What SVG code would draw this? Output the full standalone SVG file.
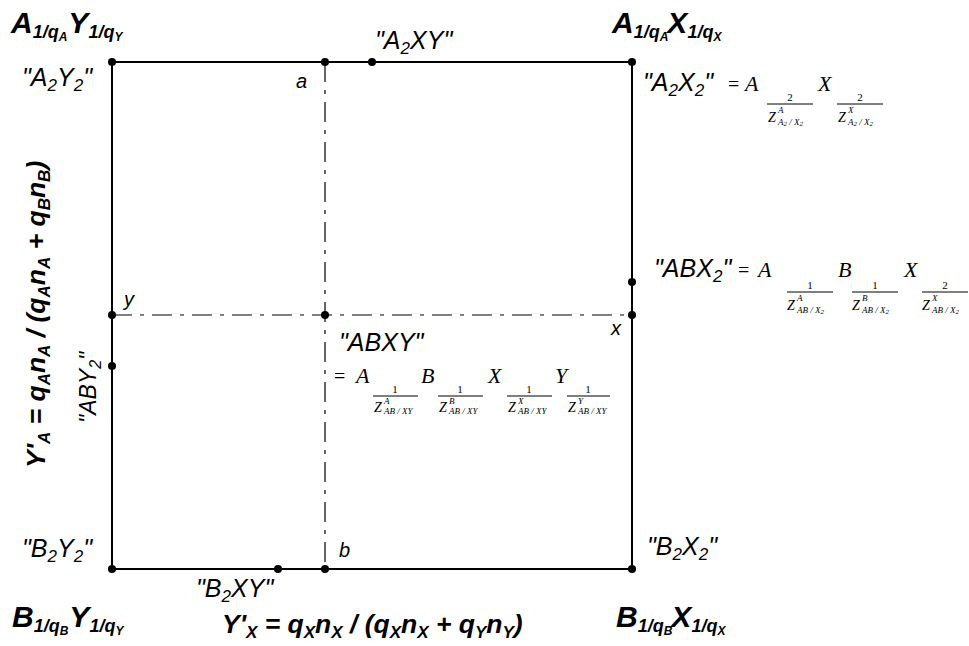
<svg xmlns="http://www.w3.org/2000/svg" width="969" height="646" viewBox="0 0 969 646">
<style>
.bi{font-family:"Liberation Sans",Arial,sans-serif;font-weight:bold;font-style:italic;fill:#000}
.it{font-family:"Liberation Sans",Arial,sans-serif;font-style:italic;fill:#000}
.tm{font-family:"Liberation Serif","Times New Roman",serif;font-style:italic;fill:#000}
.tr{font-family:"Liberation Serif","Times New Roman",serif;fill:#000}
.edge{stroke:#000;stroke-width:2;fill:none}
.dd{stroke:#000;stroke-width:1.2;fill:none;stroke-dasharray:20 8 4 8}
.fl{stroke:#000;stroke-width:1}
.pt{fill:#000}
</style>
<rect width="969" height="646" fill="#fff"/>
<g id="connectors">
<path class="edge" d="M112 62H632V569H112Z"/>
<path class="dd" d="M325 62V569"/>
<path class="dd" d="M112 315H632"/>
</g>
<g id="points">
<circle class="pt" cx="112" cy="62" r="4"/>
<circle class="pt" cx="325" cy="62" r="4"/>
<circle class="pt" cx="372" cy="62" r="4"/>
<circle class="pt" cx="632" cy="62" r="4"/>
<circle class="pt" cx="632" cy="282" r="4"/>
<circle class="pt" cx="632" cy="315" r="4"/>
<circle class="pt" cx="325" cy="315" r="4"/>
<circle class="pt" cx="112" cy="315" r="4"/>
<circle class="pt" cx="112" cy="366" r="4"/>
<circle class="pt" cx="112" cy="569" r="4"/>
<circle class="pt" cx="278" cy="569" r="4"/>
<circle class="pt" cx="325" cy="569" r="4"/>
<circle class="pt" cx="632" cy="569" r="4"/>
</g>
<g id="corner-AY">
<text class="bi" font-size="30" x="11" y="33">A<tspan dy="5" font-size="18">1/q</tspan><tspan dy="3" font-size="12">A</tspan><tspan dy="-8" dx="1">Y</tspan><tspan dy="5" font-size="18">1/q</tspan><tspan dy="3" font-size="12">Y</tspan></text>
</g>
<g id="corner-AX">
<text class="bi" font-size="30" x="612" y="33">A<tspan dy="5" font-size="18">1/q</tspan><tspan dy="3" font-size="12">A</tspan><tspan dy="-8" dx="-1">X</tspan><tspan dy="5" font-size="18">1/q</tspan><tspan dy="3" font-size="12">X</tspan></text>
</g>
<g id="corner-BY">
<text class="bi" font-size="30" x="12" y="627">B<tspan dy="5" font-size="18">1/q</tspan><tspan dy="3" font-size="12">B</tspan><tspan dy="-8" dx="1">Y</tspan><tspan dy="5" font-size="18">1/q</tspan><tspan dy="3" font-size="12">Y</tspan></text>
</g>
<g id="corner-BX">
<text class="bi" font-size="30" x="616" y="627">B<tspan dy="5" font-size="18">1/q</tspan><tspan dy="3" font-size="12">B</tspan><tspan dy="-8" dx="-1">X</tspan><tspan dy="5" font-size="18">1/q</tspan><tspan dy="3" font-size="12">X</tspan></text>
</g>
<g id="label-A2Y2">
<text class="it" font-size="25" x="22" y="86">"A<tspan dy="5" font-size="17">2</tspan><tspan dy="-5">Y</tspan><tspan dy="5" font-size="17">2</tspan><tspan dy="-5">"</tspan></text>
</g>
<g id="label-A2XY">
<text class="it" font-size="25" x="375" y="49">"A<tspan dy="5" font-size="17">2</tspan><tspan dy="-5">XY"</tspan></text>
</g>
<g id="label-B2Y2">
<text class="it" font-size="25" x="22" y="557">"B<tspan dy="5" font-size="17">2</tspan><tspan dy="-5">Y</tspan><tspan dy="5" font-size="17">2</tspan><tspan dy="-5">"</tspan></text>
</g>
<g id="label-B2XY">
<text class="it" font-size="25" x="196" y="597">"B<tspan dy="5" font-size="17">2</tspan><tspan dy="-5">XY"</tspan></text>
</g>
<g id="label-B2X2">
<text class="it" font-size="25" x="647" y="555">"B<tspan dy="5" font-size="17">2</tspan><tspan dy="-5">X</tspan><tspan dy="5" font-size="17">2</tspan><tspan dy="-5">"</tspan></text>
</g>
<g id="small-labels">
<text class="it" font-size="20" x="296" y="88">a</text>
<text class="it" font-size="20" x="339" y="557">b</text>
<text class="it" font-size="20" x="124" y="306">y</text>
<text class="it" font-size="20" x="611" y="335">x</text>
</g>
<g id="label-A2X2">
<text class="it" font-size="25" x="643" y="91">"A<tspan dy="5" font-size="17">2</tspan><tspan dy="-5">X</tspan><tspan dy="5" font-size="17">2</tspan><tspan dy="-5">"</tspan></text>
<text class="tr" font-size="20" x="728" y="91">=</text>
<text class="tm" font-size="22" x="745" y="91">A</text>
<line class="fl" x1="767" y1="104" x2="813" y2="104"/>
<text class="tr" font-size="11" x="790" y="101" text-anchor="middle">2</text>
<text class="tm" font-size="14" x="768" y="122">Z<tspan x="778" y="113" font-size="9">A</tspan><tspan x="778" y="125" font-size="9">A</tspan><tspan font-size="7" dy="1">2</tspan><tspan font-size="9" dy="-1"> / X</tspan><tspan font-size="7" dy="1">2</tspan></text>
<text class="tm" font-size="22" x="818" y="91">X</text>
<line class="fl" x1="837" y1="104" x2="883" y2="104"/>
<text class="tr" font-size="11" x="860" y="101" text-anchor="middle">2</text>
<text class="tm" font-size="14" x="838" y="122">Z<tspan x="848" y="113" font-size="9">X</tspan><tspan x="848" y="125" font-size="9">A</tspan><tspan font-size="7" dy="1">2</tspan><tspan font-size="9" dy="-1"> / X</tspan><tspan font-size="7" dy="1">2</tspan></text>
</g>
<g id="label-ABX2">
<text class="it" font-size="25" x="654" y="277">"ABX<tspan dy="5" font-size="17">2</tspan><tspan dy="-5">"</tspan></text>
<text class="tr" font-size="20" x="738" y="277">=</text>
<text class="tm" font-size="22" x="758" y="277">A</text>
<line class="fl" x1="787" y1="292" x2="833" y2="292"/>
<text class="tr" font-size="11" x="810" y="289" text-anchor="middle">1</text>
<text class="tm" font-size="14" x="787" y="310">Z<tspan x="797" y="301" font-size="9">A</tspan><tspan x="797" y="313" font-size="9">AB / X</tspan><tspan font-size="7" dy="1">2</tspan></text>
<text class="tm" font-size="22" x="838" y="277">B</text>
<line class="fl" x1="852" y1="292" x2="898" y2="292"/>
<text class="tr" font-size="11" x="875" y="289" text-anchor="middle">1</text>
<text class="tm" font-size="14" x="852" y="310">Z<tspan x="862" y="301" font-size="9">B</tspan><tspan x="862" y="313" font-size="9">AB / X</tspan><tspan font-size="7" dy="1">2</tspan></text>
<text class="tm" font-size="22" x="904" y="277">X</text>
<line class="fl" x1="922" y1="292" x2="968" y2="292"/>
<text class="tr" font-size="11" x="945" y="289" text-anchor="middle">2</text>
<text class="tm" font-size="14" x="922" y="310">Z<tspan x="932" y="301" font-size="9">X</tspan><tspan x="932" y="313" font-size="9">AB / X</tspan><tspan font-size="7" dy="1">2</tspan></text>
</g>
<g id="label-ABXY">
<text class="it" font-size="25" x="339" y="351">"ABXY"</text>
<text class="tr" font-size="20" x="334" y="383">=</text>
<text class="tm" font-size="22" x="356" y="383">A</text>
<line class="fl" x1="373" y1="396" x2="418" y2="396"/>
<text class="tr" font-size="11" x="395" y="393" text-anchor="middle">1</text>
<text class="tm" font-size="14" x="374" y="412">Z<tspan x="384" y="404" font-size="9">A</tspan><tspan x="384" y="414" font-size="9">AB / XY</tspan></text>
<text class="tm" font-size="22" x="421" y="383">B</text>
<line class="fl" x1="438" y1="396" x2="483" y2="396"/>
<text class="tr" font-size="11" x="460" y="393" text-anchor="middle">1</text>
<text class="tm" font-size="14" x="439" y="412">Z<tspan x="449" y="404" font-size="9">B</tspan><tspan x="449" y="414" font-size="9">AB / XY</tspan></text>
<text class="tm" font-size="22" x="488" y="383">X</text>
<line class="fl" x1="507" y1="396" x2="552" y2="396"/>
<text class="tr" font-size="11" x="529" y="393" text-anchor="middle">1</text>
<text class="tm" font-size="14" x="508" y="412">Z<tspan x="518" y="404" font-size="9">X</tspan><tspan x="518" y="414" font-size="9">AB / XY</tspan></text>
<text class="tm" font-size="22" x="555" y="383">Y</text>
<line class="fl" x1="567" y1="396" x2="610" y2="396"/>
<text class="tr" font-size="11" x="588" y="393" text-anchor="middle">1</text>
<text class="tm" font-size="14" x="568" y="412">Z<tspan x="578" y="404" font-size="9">Y</tspan><tspan x="578" y="414" font-size="9">AB / XY</tspan></text>
</g>
<g id="label-ABY2">
<text class="it" font-size="23" transform="translate(96 423) rotate(-90)" x="0" y="0">"ABY<tspan dy="5" font-size="16">2</tspan><tspan dy="-5">"</tspan></text>
</g>
<g id="axis-left">
<text class="bi" font-size="26.5" transform="translate(45 468) rotate(-90)" x="0" y="0">Y'<tspan dy="5" font-size="17">A</tspan><tspan dy="-5"> = q</tspan><tspan dy="5" font-size="17">A</tspan><tspan dy="-5">n</tspan><tspan dy="5" font-size="17">A</tspan><tspan dy="-5"> / (q</tspan><tspan dy="5" font-size="17">A</tspan><tspan dy="-5">n</tspan><tspan dy="5" font-size="17">A</tspan><tspan dy="-5"> + q</tspan><tspan dy="5" font-size="17">B</tspan><tspan dy="-5">n</tspan><tspan dy="5" font-size="17">B</tspan><tspan dy="-5">)</tspan></text>
</g>
<g id="axis-bottom">
<text class="bi" font-size="26.5" x="222" y="633">Y'<tspan dy="5" font-size="17">X</tspan><tspan dy="-5"> = q</tspan><tspan dy="5" font-size="17">X</tspan><tspan dy="-5">n</tspan><tspan dy="5" font-size="17">X</tspan><tspan dy="-5"> / (q</tspan><tspan dy="5" font-size="17">X</tspan><tspan dy="-5">n</tspan><tspan dy="5" font-size="17">X</tspan><tspan dy="-5"> + q</tspan><tspan dy="5" font-size="17">Y</tspan><tspan dy="-5">n</tspan><tspan dy="5" font-size="17">Y</tspan><tspan dy="-5">)</tspan></text>
</g>
</svg>
